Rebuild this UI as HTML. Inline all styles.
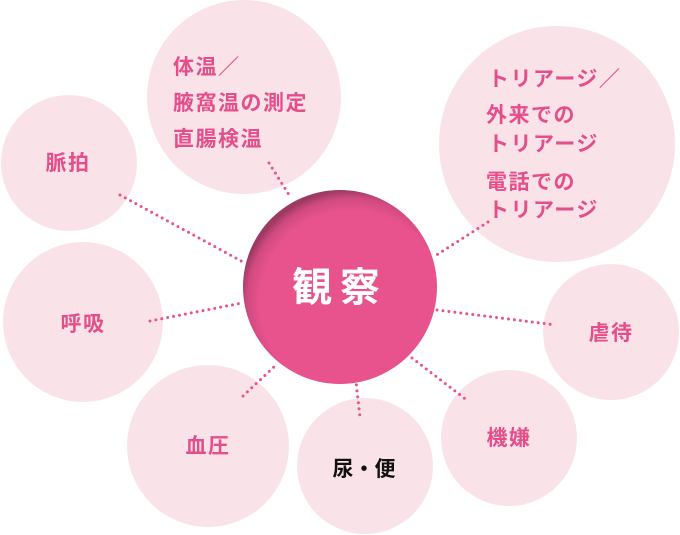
<!DOCTYPE html>
<html><head><meta charset="utf-8"><style>
html,body{margin:0;padding:0;background:#fff;}
svg{display:block}
text{font-family:"Liberation Sans","Noto Sans CJK JP",sans-serif;font-weight:bold;}
</style></head><body>
<svg width="680" height="535" viewBox="0 0 680 535" xmlns="http://www.w3.org/2000/svg">
<defs>
<radialGradient id="g" cx="0.56" cy="0.58" r="0.58">
<stop offset="0.82" stop-color="#e8528d"/>
<stop offset="0.93" stop-color="#cf4a7f"/>
<stop offset="1" stop-color="#9c3a62"/>
</radialGradient>
</defs>
<g fill="#fae3e8">
<circle cx="69" cy="163" r="68"/>
<circle cx="244" cy="97" r="97"/>
<circle cx="557" cy="144" r="118"/>
<circle cx="83" cy="322" r="80"/>
<circle cx="611" cy="332" r="68"/>
<circle cx="208" cy="446" r="81"/>
<circle cx="365" cy="466" r="68"/>
<circle cx="509" cy="438" r="68"/>
</g>
<g stroke="#e8528d" stroke-width="3" stroke-linecap="round" stroke-dasharray="0 6">
<line x1="120" y1="195" x2="243" y2="262"/>
<line x1="269" y1="163" x2="291" y2="198"/>
<line x1="488" y1="222" x2="435" y2="256"/>
<line x1="150" y1="321" x2="242" y2="303"/>
<line x1="437" y1="310" x2="556" y2="325"/>
<line x1="243" y1="396" x2="276" y2="365"/>
<line x1="355" y1="373" x2="360" y2="417"/>
<line x1="412" y1="358" x2="468" y2="401"/>
</g>
<circle cx="340" cy="287" r="97" fill="url(#g)"/>
<text x="340" y="301" fill="#fff" font-size="40" text-anchor="middle" letter-spacing="8">観察</text>
<g fill="#e44e8a" font-size="21" letter-spacing="1.5">
<text x="173" y="74">体温／</text>
<text x="173" y="110">腋窩温の測定</text>
<text x="173" y="146">直腸検温</text>
<text x="488" y="86">トリアージ／</text>
<text x="486" y="122">外来での</text>
<text x="488" y="151">トリアージ</text>
<text x="486" y="189">電話での</text>
<text x="488" y="217">トリアージ</text>
<text x="68" y="170" text-anchor="middle">脈拍</text>
<text x="83" y="331" text-anchor="middle">呼吸</text>
<text x="611" y="340" text-anchor="middle">虐待</text>
<text x="208" y="453" text-anchor="middle">血圧</text>
<text x="509" y="445" text-anchor="middle">機嫌</text>
</g>
<text x="364" y="476" fill="#111" font-size="21" text-anchor="middle">尿・便</text>
</svg>
</body></html>
